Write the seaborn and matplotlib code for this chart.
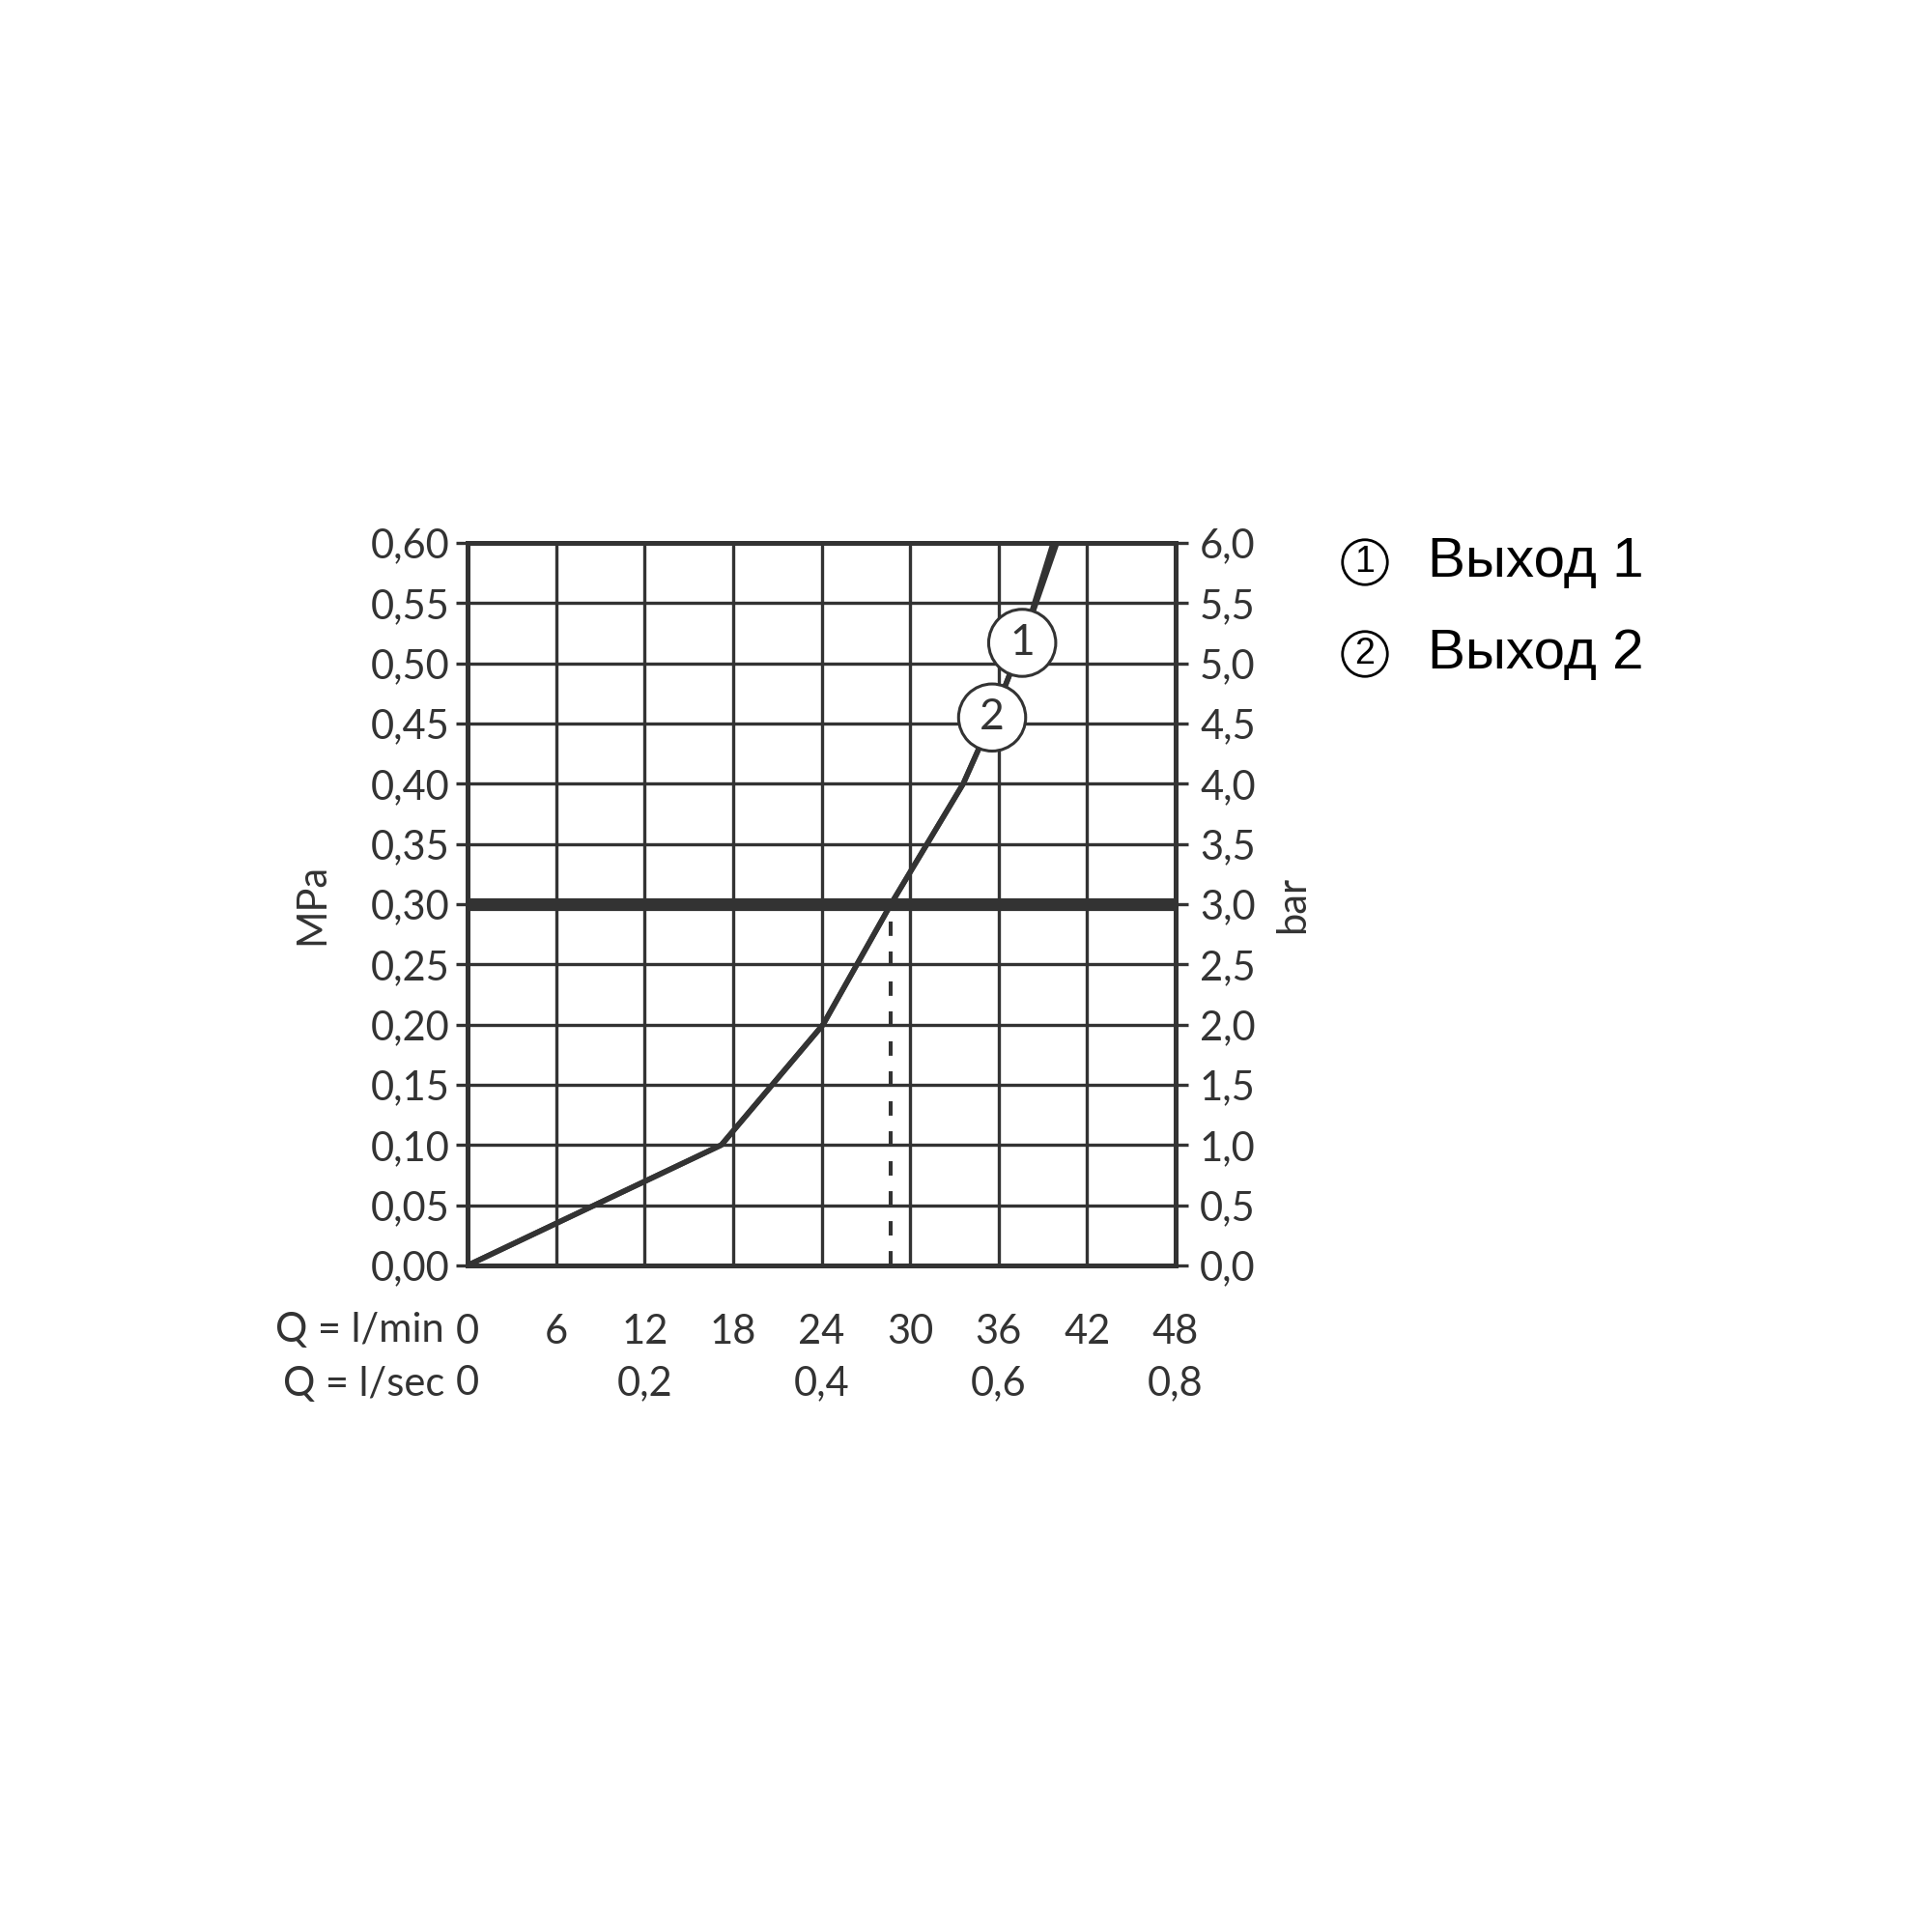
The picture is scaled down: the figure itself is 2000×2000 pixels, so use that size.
import numpy as np
import pandas as pd
import matplotlib.pyplot as plt
import seaborn as sns

# данные
flow_out1 = [0, 17.2, 24.1, 28.7, 33.6, 35.6, 37.6, 39.7]     # l/min
press_out1 = [0, 0.10, 0.20, 0.30, 0.40, 0.455, 0.517, 0.60]  # MPa
flow_out2 = [0, 17.2, 24.1, 28.7, 33.6, 35.6, 37.6, 39.95]
press_out2 = [0, 0.10, 0.20, 0.30, 0.40, 0.455, 0.517, 0.60]
work_flow = 28.7
work_press = 0.30

mpa_ticks = np.arange(0, 0.61, 0.05)
bar_ticks = np.arange(0, 6.01, 0.5)
lmin_ticks = [0, 6, 12, 18, 24, 30, 36, 42, 48]
lsec_ticks = [0, 0.2, 0.4, 0.6, 0.8]
legend_labels = ['Выход 1', 'Выход 2']

dark = '#333333'
fs = 30

sns.set_style('white')
plt.rcParams['font.family'] = ['Lato', 'DejaVu Sans']

fig = plt.figure(figsize=(20, 20), dpi=100)
ax = fig.add_axes([0.242, 0.345, 0.3665, 0.374])

df1 = pd.DataFrame({'q': flow_out1, 'p': press_out1})
df2 = pd.DataFrame({'q': flow_out2, 'p': press_out2})
sns.lineplot(data=df1, x='q', y='p', ax=ax, color=dark, lw=4, sort=False, zorder=4)
sns.lineplot(data=df2, x='q', y='p', ax=ax, color=dark, lw=4, sort=False, zorder=4)

ax.axhline(work_press, color=dark, lw=9.5, zorder=3)
ax.plot([work_flow, work_flow], [0, work_press], color=dark, lw=2.9,
        ls=(0, (3.7, 4)), zorder=3)

ax.set_xlim(0, 48)
ax.set_ylim(0, 0.6)
ax.set_xticks(lmin_ticks)
ax.set_xticklabels([str(v) for v in lmin_ticks])
ax.set_yticks(mpa_ticks)
ax.set_yticklabels([f'{v:.2f}'.replace('.', ',') for v in mpa_ticks])
ax.grid(True, color=dark, lw=2.4)
for s in ax.spines.values():
    s.set_color(dark)
    s.set_linewidth(3.6)
ax.tick_params(axis='both', colors=dark, labelsize=fs, length=9, width=2.4,
               labelcolor=dark)
ax.tick_params(axis='x', pad=27)
ax.tick_params(axis='y', pad=4)
ax.set_xlabel('')
ax.set_ylabel('MPa', fontsize=fs, color=dark, labelpad=30)

ax2 = ax.twinx()
ax2.set_ylim(0, 6)
ax2.set_yticks(bar_ticks)
ax2.set_yticklabels([f'{v:.1f}'.replace('.', ',') for v in bar_ticks])
ax2.tick_params(axis='y', colors=dark, labelsize=fs, length=9, width=2.4, pad=9)
for s in ax2.spines.values():
    s.set_visible(False)
ax2.set_ylabel('bar', fontsize=fs, color=dark, rotation=90, labelpad=14)

sec = ax.secondary_xaxis('bottom', functions=(lambda x: x / 60.0, lambda x: x * 60.0))
sec.set_xticks(lsec_ticks)
sec.set_xticklabels(['0'] + [f'{v:.1f}'.replace('.', ',') for v in lsec_ticks[1:]])
sec.tick_params(length=0, labelsize=fs, colors=dark, pad=74)
sec.spines['bottom'].set_visible(False)

tr = ax.transAxes
ax.text(-0.033, -0.0896, 'Q = l/min', transform=tr, ha='right', va='center',
        fontsize=fs, color=dark)
ax.text(-0.033, -0.164, 'Q = l/sec', transform=tr, ha='right', va='center',
        fontsize=fs, color=dark)

# номера кривых
circ = dict(boxstyle='circle,pad=0.32', fc='white', ec=dark, lw=2.2)
ax.text(37.6, 0.517, '1', fontsize=32, color=dark, ha='center', va='center',
        bbox=circ, zorder=6)
ax.text(35.56, 0.455, '2', fontsize=32, color=dark, ha='center', va='center',
        bbox=circ, zorder=6)

# легенда
lcirc = dict(boxstyle='circle,pad=0.14', fc='white', ec='black', lw=2)
for i, lab in enumerate(legend_labels):
    yy = 1 - (582 + i * 95) / 2000
    fig.text(1413 / 2000, yy, str(i + 1), fontsize=27, ha='center', va='center',
             color='black', bbox=lcirc, family=['Liberation Sans', 'DejaVu Sans'])
    fig.text(1478 / 2000, yy, lab, fontsize=42, ha='left', va='center',
             color='black', family=['Liberation Sans', 'DejaVu Sans'])

fig.savefig('out.png', dpi=100, facecolor='white')
